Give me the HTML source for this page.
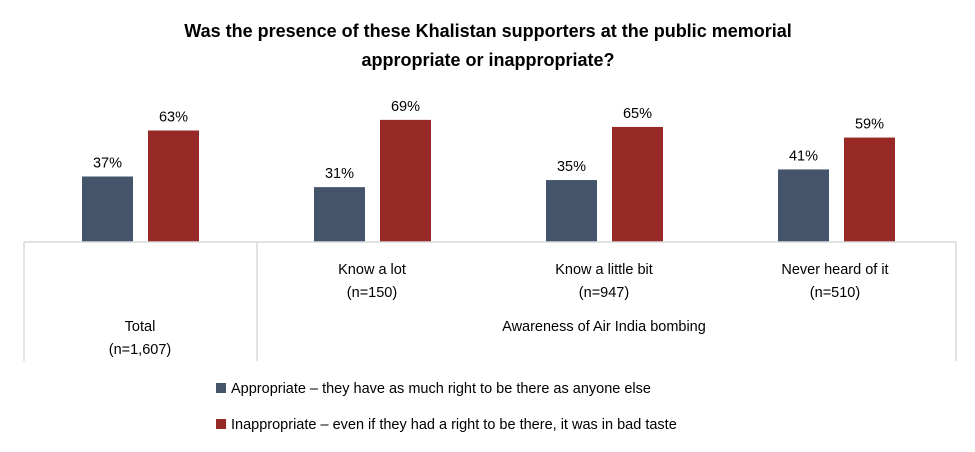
<!DOCTYPE html>
<html><head><meta charset="utf-8"><style>
body{margin:0;background:#fff;font-family:"Liberation Sans",sans-serif;}
svg{display:block}
</style></head><body>
<svg width="975" height="452">
<text x="488" y="37" text-anchor="middle" font-size="18" font-weight="bold" fill="#000">Was the presence of these Khalistan supporters at the public memorial</text>
<text x="488" y="66" text-anchor="middle" font-size="18" font-weight="bold" fill="#000">appropriate or inappropriate?</text>
<g id="bars"></g>
<g stroke="#d9d9d9" stroke-width="1.5" fill="none">
<line x1="24" y1="242" x2="956" y2="242"/>
<line x1="24" y1="242" x2="24" y2="361"/>
<line x1="257" y1="242" x2="257" y2="361"/>
<line x1="956" y1="242" x2="956" y2="361"/>
</g>
<g font-size="14.5" fill="#000" text-anchor="middle">
<text x="140" y="331">Total</text>
<text x="140" y="354">(n=1,607)</text>
<text x="372" y="274">Know a lot</text>
<text x="372" y="297">(n=150)</text>
<text x="604" y="274">Know a little bit</text>
<text x="604" y="297">(n=947)</text>
<text x="835" y="274">Never heard of it</text>
<text x="835" y="297">(n=510)</text>
<text x="604" y="331">Awareness of Air India bombing</text>
</g>
<g font-size="14.5" fill="#000">
<rect x="216" y="383" width="10" height="10" fill="#44546a"/>
<text x="231" y="393">Appropriate – they have as much right to be there as anyone else</text>
<rect x="216" y="419" width="10" height="10" fill="#962925"/>
<text x="231" y="429">Inappropriate – even if they had a right to be there, it was in bad taste</text>
</g>
</svg>
<script>
const categories=["Total","Know a lot","Know a little bit","Never heard of it"];
const appropriate=[37,31,35,41];
const inappropriate=[63,69,65,59];
const base=242, scale=1.77, left=24, groupW=232, barW=51;
const y=v=>base-v*scale;
const g=document.getElementById('bars');
const NS="http://www.w3.org/2000/svg";
function bar(x,v,color,name){
  const r=document.createElementNS(NS,'rect');
  r.setAttribute('x',x);r.setAttribute('y',y(v));r.setAttribute('width',barW);r.setAttribute('height',base-y(v));r.setAttribute('fill',color);
  
  
  g.appendChild(r);
  const t=document.createElementNS(NS,'text');
  t.setAttribute('x',x+barW/2);t.setAttribute('y',y(v)-9);t.setAttribute('text-anchor','middle');t.setAttribute('font-size','14.5');
  t.textContent=v+'%';
  
  
  g.appendChild(t);
}
categories.forEach((c,i)=>{
  const gx=left+i*groupW;
  bar(gx+58,appropriate[i],'#44546a','bar-appropriate-'+i);
  bar(gx+124,inappropriate[i],'#962925','bar-inappropriate-'+i);
});
</script>
</body></html>
